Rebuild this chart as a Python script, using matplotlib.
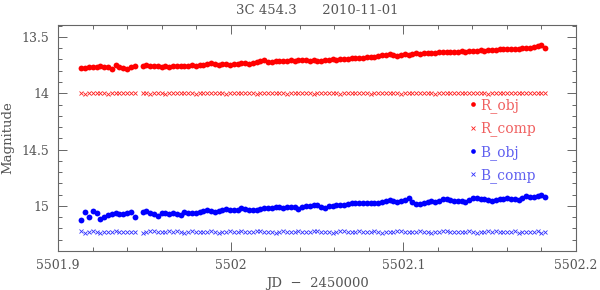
import numpy as np
import matplotlib
matplotlib.use('Agg')
import matplotlib.pyplot as plt
from matplotlib.ticker import MultipleLocator

# JD - 2450000 for each frame (two blocks with a short break)
jd = [5501.9135, 5501.9157, 5501.9179, 5501.9201, 5501.9223, 5501.9245, 5501.9267, 5501.9289,
      5501.9311, 5501.9333, 5501.9355, 5501.9377, 5501.9399, 5501.9421, 5501.9443,
      5501.9490, 5501.9512, 5501.9534, 5501.9556, 5501.9578, 5501.9600, 5501.9622, 5501.9644,
      5501.9666, 5501.9688, 5501.9710, 5501.9732, 5501.9754, 5501.9776, 5501.9798, 5501.9820,
      5501.9842, 5501.9864, 5501.9886, 5501.9908, 5501.9930, 5501.9952, 5501.9974, 5501.9996,
      5502.0018, 5502.0040, 5502.0062, 5502.0084, 5502.0106, 5502.0128, 5502.0150, 5502.0172,
      5502.0194, 5502.0216, 5502.0238, 5502.0260, 5502.0282, 5502.0304, 5502.0326, 5502.0348,
      5502.0370, 5502.0392, 5502.0414, 5502.0436, 5502.0458, 5502.0480, 5502.0502, 5502.0524,
      5502.0546, 5502.0568, 5502.0590, 5502.0612, 5502.0634, 5502.0656, 5502.0678, 5502.0700,
      5502.0722, 5502.0744, 5502.0766, 5502.0788, 5502.0810, 5502.0832, 5502.0854, 5502.0876,
      5502.0898, 5502.0920, 5502.0942, 5502.0964, 5502.0986, 5502.1008, 5502.1030, 5502.1052,
      5502.1074, 5502.1096, 5502.1118, 5502.1140, 5502.1162, 5502.1184, 5502.1206, 5502.1228,
      5502.1250, 5502.1272, 5502.1294, 5502.1316, 5502.1338, 5502.1360, 5502.1382, 5502.1404,
      5502.1426, 5502.1448, 5502.1470, 5502.1492, 5502.1514, 5502.1536, 5502.1558, 5502.1580,
      5502.1602, 5502.1624, 5502.1646, 5502.1668, 5502.1690, 5502.1712, 5502.1734, 5502.1756,
      5502.1778, 5502.1800, 5502.1822]

r_obj = [13.778, 13.774, 13.770, 13.766, 13.764, 13.762, 13.766, 13.770, 13.786, 13.750,
         13.764, 13.772, 13.782, 13.768, 13.762,
         13.755, 13.753, 13.760, 13.762, 13.759, 13.764, 13.762, 13.766, 13.759, 13.761,
         13.757, 13.762, 13.754, 13.750, 13.755, 13.752, 13.747, 13.740, 13.732, 13.744,
         13.748, 13.744, 13.742, 13.745, 13.739, 13.741, 13.735, 13.733, 13.737, 13.729,
         13.722, 13.712, 13.703, 13.718, 13.721, 13.714, 13.717, 13.711, 13.714, 13.707,
         13.711, 13.706, 13.703, 13.708, 13.711, 13.706, 13.714, 13.716, 13.707, 13.702,
         13.699, 13.702, 13.695, 13.692, 13.694, 13.688, 13.690, 13.684, 13.686, 13.679,
         13.681, 13.674, 13.670, 13.664, 13.656, 13.650, 13.660, 13.665, 13.660, 13.655,
         13.658, 13.651, 13.646, 13.648, 13.643, 13.645, 13.639, 13.641, 13.636, 13.638,
         13.633, 13.635, 13.630, 13.633, 13.629, 13.631, 13.627, 13.624, 13.626, 13.620,
         13.622, 13.617, 13.614, 13.616, 13.610, 13.608, 13.611, 13.605, 13.607, 13.603,
         13.600, 13.602, 13.594, 13.587, 13.578, 13.568, 13.594]

r_comp = [14.000, 14.003, 13.998, 14.002, 14.000, 13.997, 14.001, 14.003, 13.999, 14.000,
          14.002, 13.998, 14.001, 13.996, 13.999,
          14.002, 13.999, 14.003, 14.000, 13.997, 14.001, 14.004, 13.998, 14.000, 14.002,
          13.999, 14.001, 13.997, 14.000, 14.003, 13.998, 14.001, 14.000, 13.996, 14.002,
          13.999, 14.001, 14.003, 13.998, 14.000, 14.002, 13.999, 13.997, 14.001, 14.000,
          14.003, 13.999, 14.001, 13.998, 14.002, 14.000, 13.996, 14.001, 14.003, 13.999,
          14.000, 14.002, 13.998, 14.001, 13.999, 14.003, 14.000, 13.997, 14.001, 14.002,
          13.999, 14.000, 14.004, 13.998, 14.001, 13.999, 14.002, 14.000, 13.997, 14.001,
          14.003, 13.999, 14.000, 14.002, 13.998, 14.001, 13.999, 14.000, 14.003, 13.997,
          14.001, 14.000, 14.002, 13.999, 14.001, 13.998, 14.000, 14.003, 13.999, 14.001,
          14.000, 13.997, 14.002, 13.999, 14.001, 14.000, 13.998, 14.002, 14.000, 13.999,
          14.001, 14.003, 13.998, 14.000, 14.002, 13.999, 14.001, 13.997, 14.000, 14.002,
          13.999, 14.001, 14.000, 13.998, 14.002, 13.999, 14.001]

b_obj = [15.124, 15.058, 15.096, 15.046, 15.066, 15.116, 15.094, 15.082, 15.072, 15.064,
         15.070, 15.068, 15.064, 15.056, 15.094,
         15.052, 15.048, 15.062, 15.072, 15.086, 15.062, 15.066, 15.070, 15.060, 15.068,
         15.078, 15.054, 15.064, 15.060, 15.062, 15.058, 15.046, 15.036, 15.048, 15.055,
         15.042, 15.032, 15.030, 15.034, 15.038, 15.040, 15.016, 15.026, 15.032, 15.040,
         15.036, 15.026, 15.015, 15.014, 15.018, 15.010, 15.006, 15.020, 15.012, 15.006,
         15.012, 15.028, 15.012, 15.004, 15.000, 14.996, 14.990, 15.008, 15.020, 15.004,
         14.998, 14.990, 14.992, 14.988, 14.980, 14.976, 14.978, 14.974, 14.970, 14.972,
         14.970, 14.974, 14.977, 14.968, 14.960, 14.946, 14.958, 14.962, 14.952, 14.944,
         14.932, 14.962, 14.984, 14.980, 14.972, 14.962, 14.954, 14.964, 14.958, 14.940,
         14.942, 14.946, 14.952, 14.954, 14.956, 14.966, 14.948, 14.932, 14.926, 14.938,
         14.940, 14.946, 14.952, 14.948, 14.942, 14.938, 14.932, 14.936, 14.940, 14.946,
         14.928, 14.916, 14.924, 14.918, 14.910, 14.902, 14.922]

b_comp = [15.226, 15.236, 15.230, 15.224, 15.234, 15.238, 15.232, 15.228, 15.232, 15.226,
          15.230, 15.234, 15.228, 15.232, 15.230,
          15.236, 15.230, 15.226, 15.224, 15.230, 15.234, 15.228, 15.222, 15.230, 15.226,
          15.232, 15.236, 15.228, 15.224, 15.230, 15.234, 15.228, 15.232, 15.226, 15.230,
          15.236, 15.230, 15.228, 15.224, 15.232, 15.228, 15.226, 15.230, 15.234, 15.230,
          15.226, 15.222, 15.228, 15.232, 15.230, 15.236, 15.228, 15.224, 15.230, 15.232,
          15.228, 15.226, 15.230, 15.234, 15.228, 15.222, 15.226, 15.230, 15.228, 15.232,
          15.236, 15.230, 15.226, 15.224, 15.230, 15.228, 15.232, 15.226, 15.230, 15.234,
          15.228, 15.224, 15.230, 15.236, 15.232, 15.228, 15.230, 15.226, 15.222, 15.228,
          15.232, 15.234, 15.228, 15.226, 15.230, 15.232, 15.236, 15.228, 15.230, 15.224,
          15.226, 15.232, 15.228, 15.230, 15.234, 15.228, 15.226, 15.232, 15.236, 15.230,
          15.228, 15.224, 15.230, 15.226, 15.232, 15.228, 15.234, 15.230, 15.226, 15.236,
          15.232, 15.228, 15.234, 15.230, 15.226, 15.236, 15.230]

title_obj = '3C 454.3'
title_date = '2010-11-01'

txt = '#555555'
plt.rcParams['font.family'] = ['DejaVu Serif']

fig = plt.figure(figsize=(6, 2.9), dpi=100)
ax = fig.add_axes([0.0967, 0.1345, 0.8633, 0.7793])

ax.plot(jd, r_obj, 'o', color='#ff0000', ms=4.2, mew=0, label='R_obj')
ax.plot(jd, r_comp, 'x', color='#ff2020', ms=2.8, mew=0.6, label='R_comp')
ax.plot(jd, b_obj, 'o', color='#0000ff', ms=4.2, mew=0, label='B_obj')
ax.plot(jd, b_comp, 'x', color='#3030ff', ms=2.8, mew=0.6, label='B_comp')

ax.set_xlim(5501.9, 5502.2)
ax.set_ylim(15.4, 13.394)
ax.xaxis.set_minor_locator(MultipleLocator(0.02))
ax.yaxis.set_minor_locator(MultipleLocator(0.1))
ax.set_xticks([5501.9, 5502.0, 5502.1, 5502.2])
ax.set_xticklabels(['5501.9', '5502', '5502.1', '5502.2'])
ax.set_yticks([13.5, 14.0, 14.5, 15.0])
ax.set_yticklabels(['13.5', '14', '14.5', '15'])

ax.tick_params(which='both', direction='in', top=True, right=True, colors='#666666',
               labelcolor=txt, labelsize=9, width=0.7)
ax.tick_params(which='major', length=6.5, pad=6)
ax.tick_params(which='minor', length=3)
for s in ax.spines.values():
    s.set_color('#666666')
    s.set_linewidth(0.8)

ax.set_xlabel('JD  \u2212  2450000', color=txt, fontsize=9.5)
ax.xaxis.set_label_coords(0.5, -0.115)
ax.set_ylabel('Magnitude', color=txt, fontsize=9.5)
ax.yaxis.set_label_coords(-0.085, 0.5)
ax.set_title(title_obj + '      ' + title_date, color=txt, fontsize=9.5, pad=8)

leg = ax.legend(loc='upper left', bbox_to_anchor=(0.785, 0.70), frameon=False,
                handlelength=0.4, handletextpad=0.3, labelspacing=0.6, fontsize=10,
                markerscale=0.8, borderaxespad=0)
for t, c in zip(leg.get_texts(), ['#f06060', '#f06060', '#6060f0', '#6060f0']):
    t.set_color(c)

fig.savefig('out.png', dpi=100)
